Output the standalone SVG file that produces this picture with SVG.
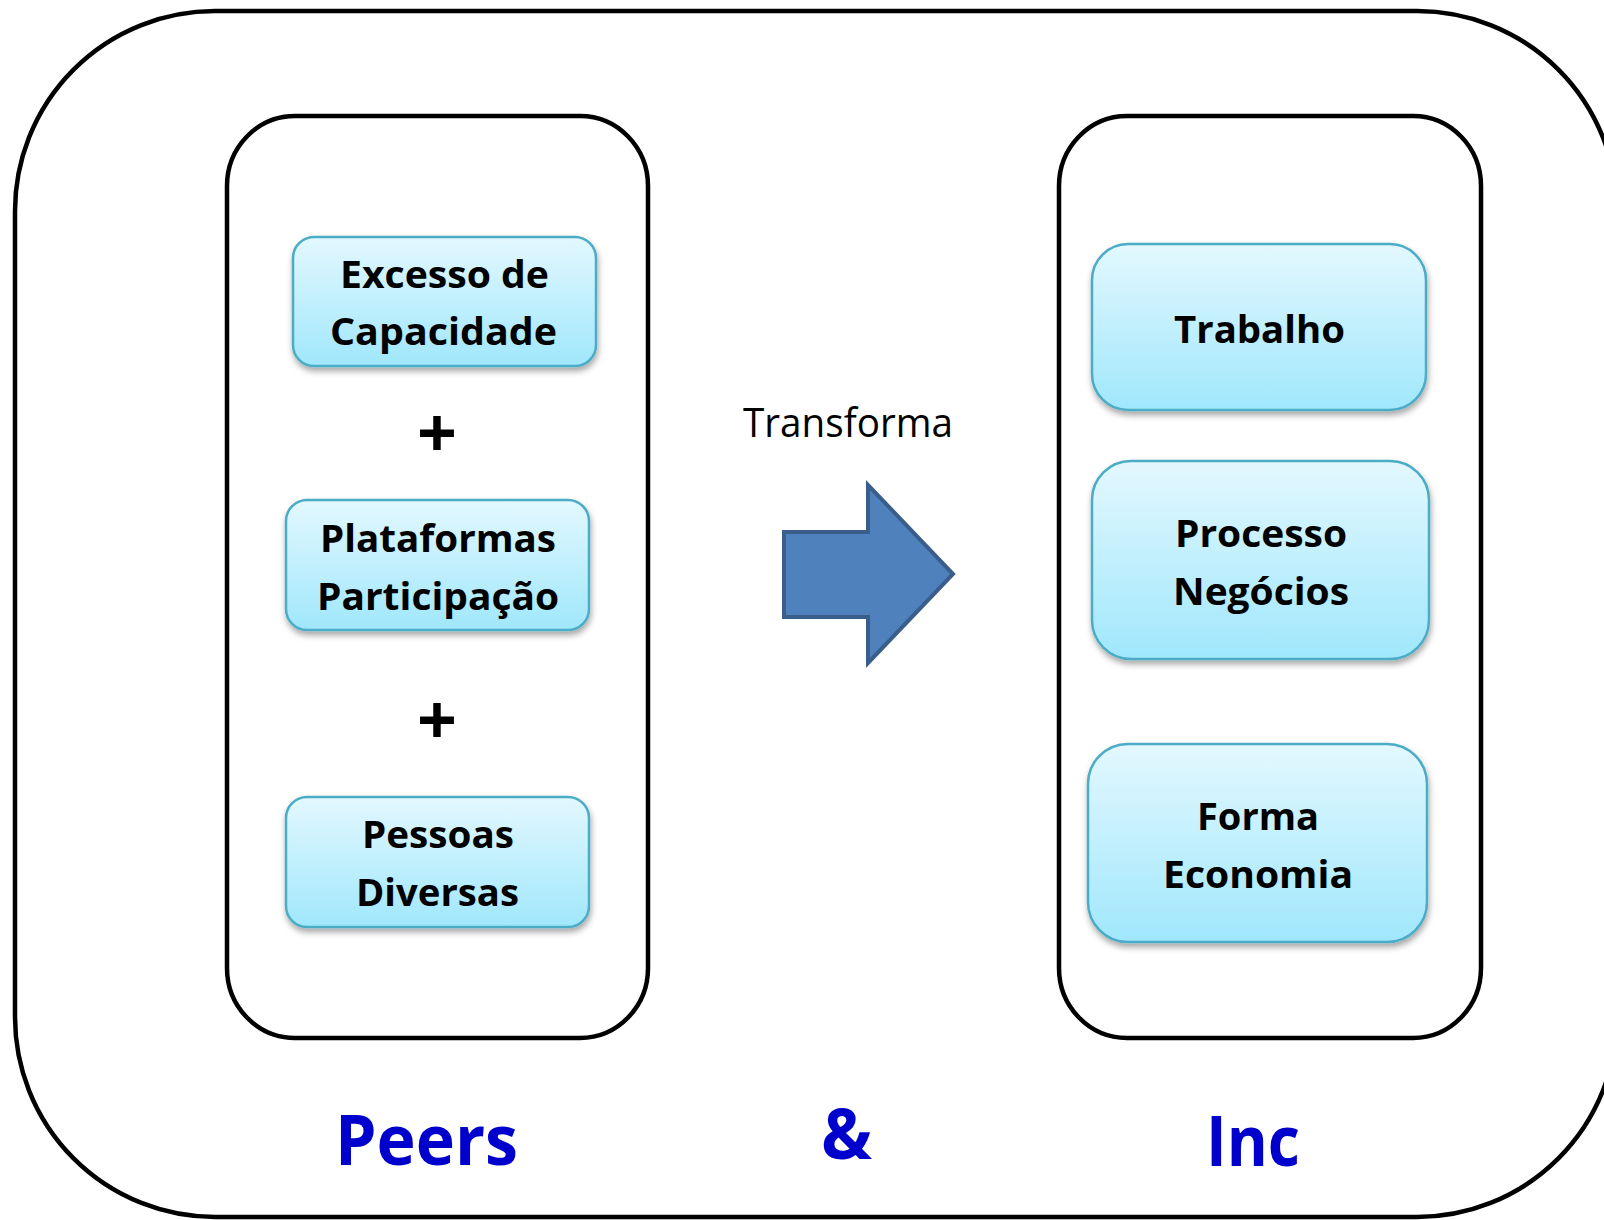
<svg xmlns="http://www.w3.org/2000/svg" width="1604" height="1220" viewBox="0 0 1604 1220">
<defs>
<linearGradient id="boxGrad" x1="0" y1="0" x2="0" y2="1">
<stop offset="0" stop-color="#E3F8FE"/>
<stop offset="1" stop-color="#A0E7FC"/>
</linearGradient>
<filter id="shadow" x="-10%" y="-10%" width="120%" height="130%">
<feDropShadow dx="1" dy="4" stdDeviation="3" flood-color="#000" flood-opacity="0.35"/>
</filter>
<style>
.frame{fill:#fff;stroke:#000;stroke-width:4.5}
.box{fill:url(#boxGrad);stroke:#4BACC6;stroke-width:2.5;filter:url(#shadow)}
.bt{font-family:"Open Sans","Noto Sans","Liberation Sans",sans-serif;font-weight:700;font-size:38px;fill:#000;text-anchor:middle}
.plus{font-family:"Open Sans","Noto Sans","Liberation Sans",sans-serif;font-weight:700;font-size:70px;fill:#000;text-anchor:middle}
.big{font-family:"Open Sans","Noto Sans","Liberation Sans",sans-serif;font-weight:700;font-size:70px;fill:#0000CC;text-anchor:middle}
.lbl{font-family:"Open Sans","Noto Sans","Liberation Sans",sans-serif;font-size:40px;fill:#000;text-anchor:middle}
</style>
</defs>
<rect width="1604" height="1220" fill="#fff"/>
<g id="outer">
<rect class="frame" x="15" y="11" width="1602" height="1206" rx="200" ry="200"/>
</g>
<g id="peers-panel">
<rect class="frame" x="227" y="116" width="421" height="922" rx="68" ry="70"/>
</g>
<g id="inc-panel">
<rect class="frame" x="1059" y="116" width="422" height="922" rx="68" ry="70"/>
</g>
<g id="excesso">
<rect class="box" x="293" y="237" width="303" height="129" rx="21"/>
<text class="bt" x="444.5" y="288" textLength="209" lengthAdjust="spacingAndGlyphs">Excesso de</text>
<text class="bt" x="443.5" y="345" textLength="227" lengthAdjust="spacingAndGlyphs">Capacidade</text>
</g>
<g id="plus1"><text class="plus" x="437" y="458">+</text></g>
<g id="plataformas">
<rect class="box" x="286" y="500" width="303" height="130" rx="21"/>
<text class="bt" x="438" y="552" textLength="236" lengthAdjust="spacingAndGlyphs">Plataformas</text>
<text class="bt" x="438" y="610" textLength="242" lengthAdjust="spacingAndGlyphs">Participação</text>
</g>
<g id="plus2"><text class="plus" x="437" y="745">+</text></g>
<g id="pessoas">
<rect class="box" x="286" y="797" width="303" height="130" rx="21"/>
<text class="bt" x="438" y="848" textLength="152" lengthAdjust="spacingAndGlyphs">Pessoas</text>
<text class="bt" x="437.5" y="906" textLength="163" lengthAdjust="spacingAndGlyphs">Diversas</text>
</g>
<g id="trabalho">
<rect class="box" x="1092" y="244" width="334" height="166" rx="36"/>
<text class="bt" x="1259.5" y="343" textLength="171" lengthAdjust="spacingAndGlyphs">Trabalho</text>
</g>
<g id="processo">
<rect class="box" x="1092" y="461" width="337" height="198" rx="39"/>
<text class="bt" x="1261" y="547" textLength="172" lengthAdjust="spacingAndGlyphs">Processo</text>
<text class="bt" x="1261" y="605" textLength="176" lengthAdjust="spacingAndGlyphs">Negócios</text>
</g>
<g id="forma">
<rect class="box" x="1088" y="744" width="339" height="198" rx="40"/>
<text class="bt" x="1258" y="830" textLength="122" lengthAdjust="spacingAndGlyphs">Forma</text>
<text class="bt" x="1258" y="888" textLength="190" lengthAdjust="spacingAndGlyphs">Economia</text>
</g>
<g id="connectors">
<g id="transforma-arrow">
<polygon points="784,532 868,532 868,485 953,574 868,663 868,617 784,617" fill="#4F81BD" stroke="#3A5E8C" stroke-width="4" stroke-linejoin="miter"/>
<text class="lbl" x="848" y="437" textLength="210" lengthAdjust="spacingAndGlyphs">Transforma</text>
</g>
</g>
<g id="footer">
<text class="big" x="426.5" y="1165" textLength="183" lengthAdjust="spacingAndGlyphs">Peers</text>
<text class="big" x="846.5" y="1159" font-size="76" textLength="51" lengthAdjust="spacingAndGlyphs">&amp;</text>
<text class="big" x="1253" y="1166" textLength="94" lengthAdjust="spacingAndGlyphs">Inc</text>
</g>
</svg>
